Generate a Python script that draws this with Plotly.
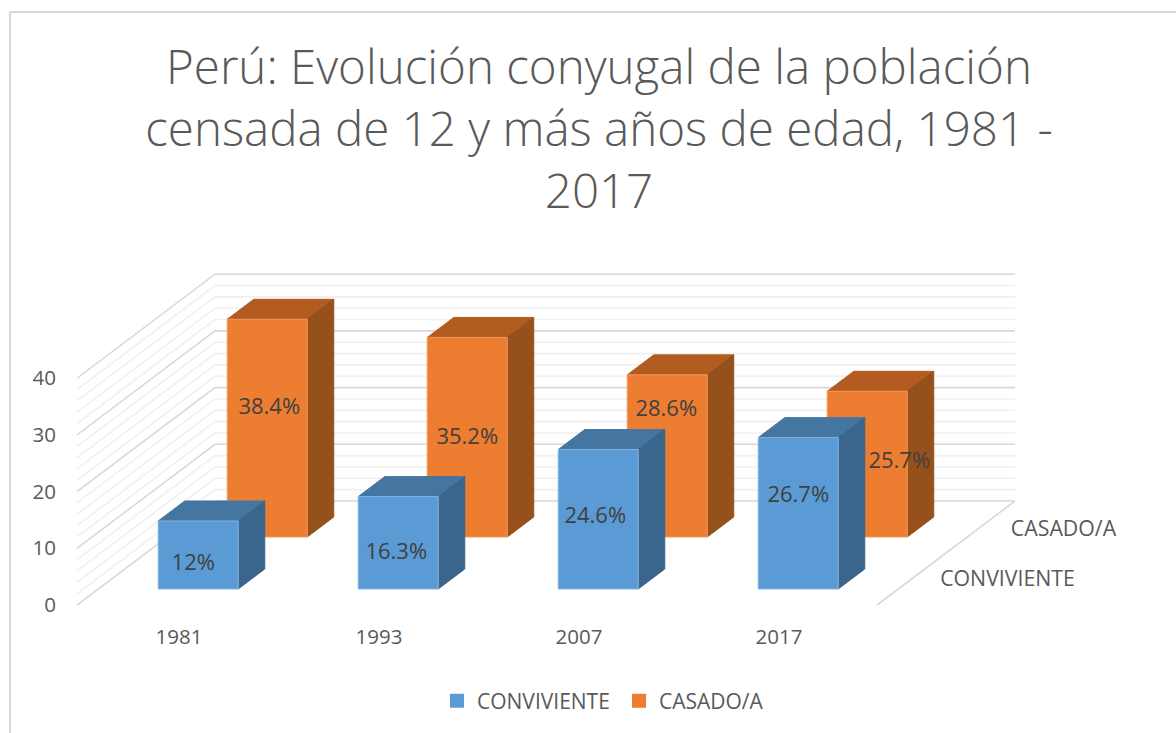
import plotly.graph_objects as go

# ---------- data ----------
YEARS = ["1981", "1993", "2007", "2017"]
SERIES = ["CONVIVIENTE", "CASADO/A"]
CONVIVIENTE = [12, 16.3, 24.6, 26.7]
CASADO = [38.4, 35.2, 28.6, 25.7]
CONV_LABELS = ["12%", "16.3%", "24.6%", "26.7%"]
CASADO_LABELS = ["38.4%", "35.2%", "28.6%", "25.7%"]
VALUE_TICKS = [0, 10, 20, 30, 40]
MINOR_STEP = 2
AXIS_MAX = 40

TITLE = "Perú: Evolución conyugal de la población<br>censada de 12 y más años de edad, 1981 -<br>2017"

# ---------- oblique projection (axis units) ----------
W, H = 1176, 733
PX_CAT = 200.0      # pixels per category on the x axis
PX_VAL = 5.67       # pixels per value unit on the y axis
L, R, T, B = 77, 0, 260, 111
ZERO_PX = 605
DEPTH_DX = 138 / PX_CAT
DEPTH_DY = 104 / PX_VAL
GAP = 0.30
BAR_W = 0.40
ROWS = {"conv": (0.154, 0.346), "cas": (0.654, 0.846)}

COLORS = {
    "conv": dict(front="#5B9BD5", top="#4575A1", side="#3A658C", edge="#7FB1DE"),
    "cas": dict(front="#ED7D31", top="#B25C22", side="#95501C", edge="#F2975A"),
}
FONT = "Open Sans"
TXT = "#595959"
LABEL_TXT = "#404040"


def proj(cat, depth, val):
    return cat + depth * DEPTH_DX, val + depth * DEPTH_DY


def poly(pts, fill, edge=None):
    xs, ys = zip(*[proj(*p) for p in pts + pts[:1]])
    return go.Scatter(x=xs, y=ys, mode="lines", fill="toself", fillcolor=fill,
                      line=dict(color=edge or fill, width=1), hoverinfo="skip", showlegend=False)


def bar(cat, val, row):
    d0, d1 = ROWS[row]
    c = COLORS[row]
    x0, x1 = cat + GAP, cat + GAP + BAR_W
    return [
        poly([(x0, d0, val), (x1, d0, val), (x1, d1, val), (x0, d1, val)], c["top"]),
        poly([(x1, d0, 0), (x1, d1, 0), (x1, d1, val), (x1, d0, val)], c["side"]),
        poly([(x0, d0, 0), (x1, d0, 0), (x1, d0, val), (x0, d0, val)], c["front"], c["edge"]),
    ]


def line(pts, color, width):
    xs, ys = zip(*[proj(*p) for p in pts])
    return go.Scatter(x=xs, y=ys, mode="lines", line=dict(color=color, width=width),
                      hoverinfo="skip", showlegend=False)


traces = []
n = len(YEARS)
for v in range(0, AXIS_MAX + 1, MINOR_STEP):
    major = v in VALUE_TICKS
    col, w = ("#D9D9D9", 1.6) if major else ("#F0F0F0", 1.6)
    traces.append(line([(0, 0, v), (0, 1, v), (n, 1, v)], col, w))
traces.append(line([(n, 0, 0), (n, 1, 0)], "#D9D9D9", 1.6))

for i, v in enumerate(CASADO):
    traces += bar(i, v, "cas")
for i, v in enumerate(CONVIVIENTE):
    traces += bar(i, v, "conv")

# data-label nudges from the face centre, as the reference places them (pixels)
CAS_NUDGE = [(2, 20), (0, -1), (-1, 45), (32, 2)]
CONV_NUDGE = [(-5, -10), (-2, -11), (-3, 2), (0, 17)]


def labels(values, texts, row, nudges):
    d0 = ROWS[row][0]
    xs, ys = [], []
    for i, (v, (nx, ny)) in enumerate(zip(values, nudges)):
        x, y = proj(i + GAP + BAR_W / 2, d0, v / 2)
        xs.append(x + nx / PX_CAT)
        ys.append(y + ny / PX_VAL)
    return go.Scatter(x=xs, y=ys, mode="text", text=texts, textposition="middle center",
                      textfont=dict(family=FONT, size=22, color=LABEL_TXT),
                      hoverinfo="skip", showlegend=False)


traces.append(labels(CASADO, CASADO_LABELS, "cas", CAS_NUDGE))
traces.append(labels(CONVIVIENTE, CONV_LABELS, "conv", CONV_NUDGE))

# depth axis labels
dx, dy = proj(n, 0.25, 0)
cx, cy = proj(n, 0.75, 0)
traces.append(go.Scatter(
    x=[dx + 96 / PX_CAT, cx + 83 / PX_CAT],
    y=[dy - 2 / PX_VAL, cy - 4 / PX_VAL],
    mode="text", text=SERIES, textposition="middle center",
    textfont=dict(family=FONT, size=21.3, color=TXT), hoverinfo="skip", showlegend=False))

# legend entries
for name, key in zip(SERIES, ("conv", "cas")):
    traces.append(go.Scatter(x=[None], y=[None], mode="markers", name=name,
                             marker=dict(symbol="square", size=14, color=COLORS[key]["front"])))

plot_w = W - L - R
plot_h = H - T - B
px2x = lambda p: (p - L) / plot_w
py2y = lambda p: (H - B - p) / plot_h

fig = go.Figure(traces)
fig.update_layout(
    width=W, height=H, margin=dict(l=L, r=R, t=T, b=B),
    paper_bgcolor="white", plot_bgcolor="white",
    title=dict(text=TITLE, x=599 / W, xanchor="center", y=1 - 84 / H, yanchor="top",
               font=dict(family=FONT, size=47.5, color=TXT, weight=300)),
    font=dict(family=FONT, color=TXT),
    xaxis=dict(range=[0, plot_w / PX_CAT], tickvals=[i + 0.51 for i in range(n)], ticktext=YEARS,
               showgrid=False, zeroline=False, showline=False, ticks="",
               tickfont=dict(family=FONT, size=20.5, color=TXT)),
    yaxis=dict(range=[(ZERO_PX - (H - B)) / PX_VAL, (ZERO_PX - T) / PX_VAL], tickvals=VALUE_TICKS,
               showgrid=False, zeroline=False, showline=False, ticks="", ticklabelstandoff=20,
               tickfont=dict(family=FONT, size=20.5, color=TXT)),
    legend=dict(orientation="h", x=px2x(437), xanchor="left", y=py2y(701), yanchor="middle",
                font=dict(family=FONT, size=21, color=TXT), itemwidth=30, entrywidth=137,
                bgcolor="rgba(0,0,0,0)"),
    shapes=[
        dict(type="line", xref="paper", yref="paper", x0=px2x(10), x1=px2x(10), y0=py2y(12), y1=py2y(733),
             line=dict(color="#D9D9D9", width=2)),
        dict(type="line", xref="paper", yref="paper", x0=px2x(10), x1=px2x(1176), y0=py2y(12), y1=py2y(12),
             line=dict(color="#D9D9D9", width=2)),
    ],
)
fig.write_html("out.html", config=dict(displayModeBar=False),
               post_script="document.body.style.margin='0';")
